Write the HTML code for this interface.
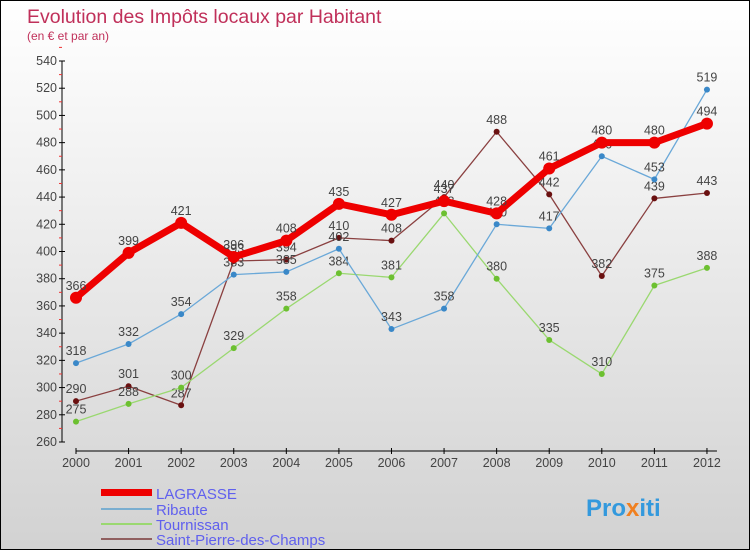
<!DOCTYPE html>
<html><head><meta charset="utf-8"><style>
body{margin:0}
#c{width:748px;height:548px;border:1px solid #000;position:relative;background:linear-gradient(#fff,#f2f2f2 30%,#d2d2d2);font-family:"Liberation Sans",sans-serif;overflow:hidden}
</style></head><body>
<div id="c">
<svg id="s" width="748" height="548" xmlns="http://www.w3.org/2000/svg">
<text x="26" y="22" font-size="19.5" fill="#c0305a">Evolution des Impôts locaux par Habitant</text>
<text x="26" y="39" font-size="12" fill="#c0305a">(en € et par an)</text>
<g id="axes"></g><g id="plot"></g>
<g>
<rect x="100" y="488" width="51" height="7" fill="#e00"/>
<text x="155" y="498" font-size="15" fill="#6060ee">LAGRASSE</text>
<rect x="100" y="507" width="51" height="2" fill="#7aaed0"/>
<text x="155" y="514" font-size="15" fill="#6060ee">Ribaute</text>
<rect x="100" y="522" width="51" height="2" fill="#9ad870"/>
<text x="155" y="529" font-size="15" fill="#6060ee">Tournissan</text>
<rect x="100" y="537" width="51" height="2" fill="#906060"/>
<text x="155" y="544" font-size="15" fill="#6060ee">Saint-Pierre-des-Champs</text>
</g>
<text x="585" y="515" font-size="24" font-weight="bold" fill="#3399dd">Pro<tspan fill="#f08020">x</tspan><tspan fill="#3399dd">iti</tspan></text>
</svg></div>
<script>
const years=[2000,2001,2002,2003,2004,2005,2006,2007,2008,2009,2010,2011,2012];
const yTicks=[260,280,300,320,340,360,380,400,420,440,460,480,500,520,540];
const lagrasse=[366,399,421,396,408,435,427,437,428,461,480,480,494];
const ribaute=[318,332,354,383,385,402,343,358,420,417,470,453,519];
const tournissan=[275,288,300,329,358,384,381,428,380,335,310,375,388];
const stpierre=[290,301,287,393,394,410,408,440,488,442,382,439,443];
const NS="http://www.w3.org/2000/svg";
const X=i=>75+i*52.58, Y=v=>441-(v-260)*381/280;
function mk(t,a,p){const e=document.createElementNS(NS,t);for(const k in a)e.setAttribute(k,a[k]);p.appendChild(e);return e;}
const ax=document.getElementById('axes'),pl=document.getElementById('plot');
let e=mk('line',{x1:61,y1:Y(540),x2:61,y2:Y(260),stroke:'#000'},ax);

yTicks.forEach(v=>{mk('line',{x1:58,x2:64,y1:Y(v),y2:Y(v),stroke:'#000'},ax);
 mk('line',{x1:58,x2:61,y1:Y(v+10),y2:Y(v+10),stroke:'#e33'},ax);
 const t=mk('text',{x:56,y:Y(v)+4,'font-size':12.5,fill:'#444','text-anchor':'end'},ax);t.textContent=v;
 });
e=mk('line',{x1:X(0),y1:450,x2:X(12)+10,y2:450,stroke:'#000'},ax);

years.forEach((y,i)=>{mk('line',{x1:X(i),x2:X(i),y1:447,y2:453,stroke:'#000'},ax);
 const t=mk('text',{x:X(i),y:466,'font-size':12.5,fill:'#444','text-anchor':'middle'},ax);t.textContent=y;
 });
function series(d,col,dot,w,r,name){
 const g=mk('g',{},pl);
 mk('polyline',{points:d.map((v,i)=>X(i)+','+Y(v)).join(' '),fill:'none',stroke:col,'stroke-width':w,'stroke-linejoin':'round'},g);
 d.forEach((v,i)=>{const c=mk('circle',{cx:X(i),cy:Y(v),r:r,fill:dot},g);
  
  const t=mk('text',{x:X(i),y:Y(v)-8,'font-size':12.5,fill:'#444','text-anchor':'middle'},g);t.textContent=v;
  });
}
series(stpierre,'#8a4040','#6a1010',1.3,3,'saint-pierre');
series(tournissan,'#9ad870','#6cc030',1.3,3,'tournissan');
series(ribaute,'#6aa8d8','#3a88c8',1.3,3,'ribaute');
series(lagrasse,'#e00','#e00',7,6,'lagrasse');
</script></body></html>
